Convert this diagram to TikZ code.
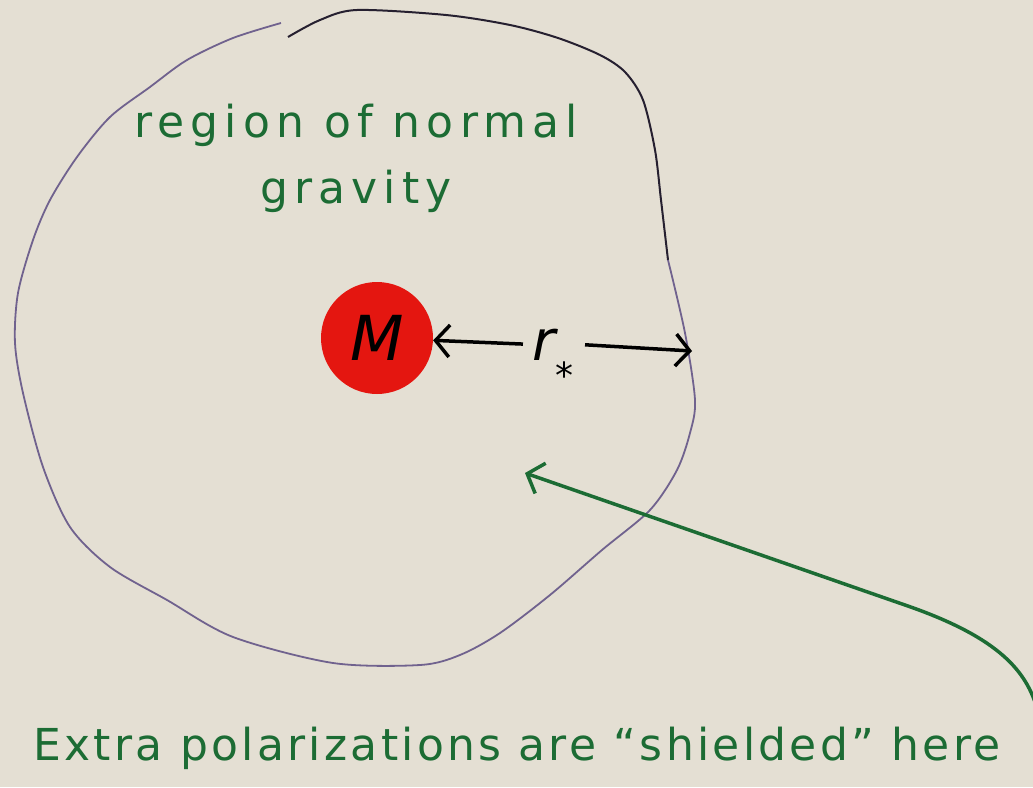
\documentclass[tikz,border=0pt]{standalone}
\usepackage{fontspec}
\setmainfont{DejaVu Sans}
\usetikzlibrary{arrows.meta}
\definecolor{paper}{RGB}{228,223,211}
\definecolor{ink}{RGB}{28,108,52}
\definecolor{blob}{RGB}{228,22,16}
\definecolor{rimdark}{RGB}{38,32,48}
\definecolor{rimlight}{RGB}{112,98,142}
\begin{document}
\begin{tikzpicture}[x=1pt,y=-1pt,
		note/.style={text=ink},
		pointer/.style={line width=3.5pt,-{Straight Barb[length=14pt,width=32pt,line width=3.5pt]}}]
	\useasboundingbox (0,0) rectangle (1033,787);
	\fill[paper] (0,0) rectangle (1033,787);
	
	% boundary of the region
	\draw[rimdark,line width=2pt] plot[smooth] coordinates {(288,37) (320,20) (357,10) (446,15) (510,25) (558,38) (600,55) (625,72) (643,100) (655,150) (661,200) (668,260)};
	\draw[rimlight,line width=1.8pt] plot[smooth] coordinates {(668,260) (685,333) (695,400) (690,433) (677,470) (650,510) (602,550) (550,595) (500,633) (460,655) (420,665) (333,663) (233,637) (167,600) (110,567) (70,527) (43,467) (23,393) (15,343) (18,293) (33,240) (50,200) (77,157) (110,117) (150,87) (187,60) (233,38) (281,23)};
	
	\node[circle,fill=blob,minimum size=112pt,inner sep=0pt,font=\fontsize{62}{62}\itshape] (mass) at (377,338) {M};
	\node[anchor=base,font=\fontsize{56}{56}\itshape] (rstar) at (553,360) {r\smash{\raisebox{-28pt}{\fontsize{36}{36}\selectfont *}}};
	\coordinate (rim) at (692,351);
	\node[note,align=center,font=\fontsize{44}{66}\selectfont\addfontfeature{LetterSpace=14}] (region) at (356,158) {region of normal\\gravity};
	\node[note,anchor=base west,font=\fontsize{44}{50}\selectfont\addfontfeature{LetterSpace=7.5}] (shield) at (30,760) {Extra polarizations are “shielded” here};
	\coordinate (tail) at (1036,705);
	\coordinate (inside) at (525,473);
	
	\path[pointer] (rstar.west) edge[shorten <=6pt] (mass)
	(rstar.east) edge[shorten <=8pt] (rim);
	\draw[pointer,ink] (tail) .. controls (1024,668) and (995,636) .. (905,605) -- (inside);
\end{tikzpicture}
\end{document}
